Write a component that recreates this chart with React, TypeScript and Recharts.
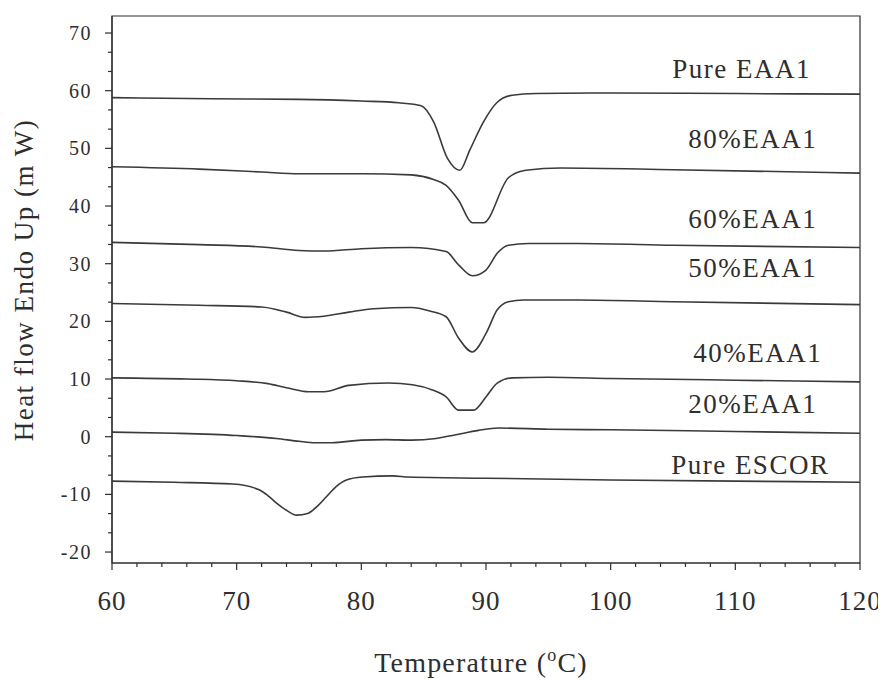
import React from 'react';
import { ComposedChart, Line, XAxis, YAxis, ReferenceArea, ReferenceDot } from 'recharts';

type Pt = { t: number; v: number };

// Temperature (°C) vs heat flow (mW)
const pureEAA1: Pt[] = [
  { t: 60, v: 58.8 }, { t: 68, v: 58.6 }, { t: 75, v: 58.5 }, { t: 80, v: 58.2 }, { t: 83, v: 57.9 },
  { t: 84.8, v: 57.4 }, { t: 85.8, v: 54.6 }, { t: 86.9, v: 48.3 }, { t: 87.9, v: 46.2 }, { t: 88.7, v: 49.7 },
  { t: 89.8, v: 54.6 }, { t: 90.9, v: 58.0 }, { t: 92.1, v: 59.2 }, { t: 94, v: 59.5 }, { t: 100, v: 59.6 },
  { t: 110, v: 59.5 }, { t: 120, v: 59.4 },
];

const eaa80: Pt[] = [
  { t: 60, v: 46.8 }, { t: 67, v: 46.4 }, { t: 72, v: 45.9 }, { t: 75, v: 45.6 }, { t: 80, v: 45.6 },
  { t: 84, v: 45.4 }, { t: 85.8, v: 44.6 }, { t: 86.8, v: 43.6 }, { t: 87.8, v: 41.0 }, { t: 88.9, v: 37.1 },
  { t: 89.8, v: 37.1 }, { t: 91.8, v: 44.9 }, { t: 93.2, v: 46.2 }, { t: 96, v: 46.6 }, { t: 105, v: 46.3 },
  { t: 120, v: 45.7 },
];

const eaa60: Pt[] = [
  { t: 60, v: 33.7 }, { t: 67, v: 33.3 }, { t: 72, v: 32.9 }, { t: 75, v: 32.3 }, { t: 77, v: 32.2 },
  { t: 80, v: 32.6 }, { t: 84, v: 32.8 }, { t: 86.8, v: 32.1 }, { t: 87.8, v: 29.8 }, { t: 88.9, v: 27.9 },
  { t: 90.0, v: 28.9 }, { t: 90.9, v: 31.8 }, { t: 91.8, v: 33.2 }, { t: 93.4, v: 33.5 }, { t: 97.4, v: 33.5 },
  { t: 105, v: 33.2 }, { t: 120, v: 32.8 },
];

const eaa50: Pt[] = [
  { t: 60, v: 23.1 }, { t: 67, v: 22.8 }, { t: 72, v: 22.5 }, { t: 74, v: 21.6 }, { t: 75.5, v: 20.7 },
  { t: 77, v: 20.9 }, { t: 79, v: 21.6 }, { t: 81, v: 22.2 }, { t: 84, v: 22.4 }, { t: 85.5, v: 21.8 },
  { t: 86.8, v: 20.8 }, { t: 87.8, v: 17.1 }, { t: 88.9, v: 14.7 }, { t: 90.0, v: 17.9 }, { t: 90.9, v: 22.0 },
  { t: 91.8, v: 23.4 }, { t: 93, v: 23.7 }, { t: 97.4, v: 23.7 }, { t: 105, v: 23.4 }, { t: 120, v: 22.9 },
];

const eaa40: Pt[] = [
  { t: 60, v: 10.2 }, { t: 66, v: 10.0 }, { t: 70, v: 9.7 }, { t: 72.5, v: 9.2 }, { t: 74, v: 8.5 },
  { t: 75.8, v: 7.8 }, { t: 77, v: 7.8 }, { t: 79, v: 8.9 }, { t: 82.2, v: 9.3 }, { t: 84.1, v: 9.0 },
  { t: 85.7, v: 8.1 }, { t: 86.8, v: 6.9 }, { t: 87.8, v: 4.6 }, { t: 89.0, v: 4.6 }, { t: 90.0, v: 6.9 },
  { t: 90.9, v: 9.3 }, { t: 92.1, v: 10.2 }, { t: 95, v: 10.3 }, { t: 100, v: 10.1 }, { t: 110, v: 9.8 },
  { t: 120, v: 9.5 },
];

const eaa20: Pt[] = [
  { t: 60, v: 0.8 }, { t: 65, v: 0.6 }, { t: 70, v: 0.2 }, { t: 73.2, v: -0.3 }, { t: 75, v: -0.8 },
  { t: 76.3, v: -1.05 }, { t: 77.6, v: -1.05 }, { t: 80, v: -0.6 }, { t: 82, v: -0.5 }, { t: 84, v: -0.6 },
  { t: 86, v: -0.3 }, { t: 87.5, v: 0.3 }, { t: 89.4, v: 1.1 }, { t: 91, v: 1.5 }, { t: 95, v: 1.3 },
  { t: 100, v: 1.2 }, { t: 110, v: 0.9 }, { t: 120, v: 0.6 },
];

const pureESCOR: Pt[] = [
  { t: 60, v: -7.7 }, { t: 65, v: -7.9 }, { t: 69.7, v: -8.2 }, { t: 71.8, v: -9.2 }, { t: 72.5, v: -10.2 },
  { t: 73.2, v: -11.5 }, { t: 74.1, v: -12.9 }, { t: 74.8, v: -13.6 }, { t: 75.7, v: -13.3 }, { t: 76.5, v: -12.0 },
  { t: 77.2, v: -10.4 }, { t: 78.0, v: -8.6 }, { t: 78.8, v: -7.5 }, { t: 80.1, v: -7.0 }, { t: 82.5, v: -6.8 },
  { t: 83.8, v: -7.0 }, { t: 90, v: -7.2 }, { t: 100, v: -7.5 }, { t: 110, v: -7.7 }, { t: 120, v: -7.9 },
];

const seriesList: Pt[][] = [pureEAA1, eaa80, eaa60, eaa50, eaa40, eaa20, pureESCOR];
const seriesNames = ['Pure EAA1', '80%EAA1', '60%EAA1', '50%EAA1', '40%EAA1', '20%EAA1', 'Pure ESCOR'];
const labelT = [110.5, 111.4, 111.4, 111.4, 111.8, 111.4, 111.2];
const labelV = [62.2, 50.05, 36.2, 27.7, 12.95, 4.1, -6.5];

const xMajorTicks = [60, 70, 80, 90, 100, 110, 120];
const yMajorTicks = [-20, -10, 0, 10, 20, 30, 40, 50, 60, 70];

const X_DOMAIN: [number, number] = [60, 120];
const Y_DOMAIN: [number, number] = [-21.9, 72.95];

const FONT = "'Liberation Serif', 'DejaVu Serif', serif";
const INK = '#2e2e2e';
const LINE = '#3a3a3a';
const fontStyle = { fontFamily: FONT };

const subdivide = (majors: number[], parts: number) => {
  const out: number[] = [];
  for (let i = 0; i < majors.length; i++) {
    out.push(majors[i]);
    if (i < majors.length - 1) {
      const step = (majors[i + 1] - majors[i]) / parts;
      for (let k = 1; k < parts; k++) out.push(majors[i] + step * k);
    }
  }
  return out;
};

const xTicks = subdivide(xMajorTicks, 5);
const yTicks = subdivide(yMajorTicks, 3);
const isMajor = (list: number[], v: number) => list.some((m) => Math.abs(m - v) < 1e-6);

const XTick = (props: any) => {
  const { x, y, payload } = props;
  const v = payload.value;
  const major = isMajor(xMajorTicks, v);
  return (
    <g>
      <line x1={x} x2={x} y1={y} y2={y + (major ? 7 : 4)} stroke={INK} strokeWidth={1.2} />
      {major && (
        <text x={x} y={y + 47} textAnchor="middle" fontSize={27} style={fontStyle} fill={INK} letterSpacing={1}>
          {Math.round(v)}
        </text>
      )}
    </g>
  );
};

const YTick = (props: any) => {
  const { x, y, payload } = props;
  const v = payload.value;
  const major = isMajor(yMajorTicks, v);
  return (
    <g>
      <line x1={x} x2={x - (major ? 7 : 4)} y1={y} y2={y} stroke={INK} strokeWidth={1.2} />
      {major && (
        <text x={x - 20} y={y + 7} textAnchor="end" fontSize={20} style={fontStyle} fill={INK} letterSpacing={1.5}>
          {Math.round(v)}
        </text>
      )}
    </g>
  );
};

const YTitle = () => (
  <text
    x={25}
    y={272}
    transform="rotate(-90, 25, 272)"
    textAnchor="middle"
    fontSize={27}
    style={fontStyle}
    fill={INK}
    letterSpacing={1.5}
  >
    Heat flow Endo Up (m W)
  </text>
);

const XTitle = () => (
  <text x={473} y={664} textAnchor="middle" fontSize={28} style={fontStyle} fill={INK} letterSpacing={1.2}>
    <tspan>Temperature (</tspan>
    <tspan fontSize={18} dy={-11}>o</tspan>
    <tspan dy={11}>C)</tspan>
  </text>
);

export default function App() {
  return (
    <ComposedChart width={878} height={672} margin={{ top: 8, right: 26, bottom: 0, left: 0 }}>
      <XAxis
        dataKey="t"
        type="number"
        domain={X_DOMAIN}
        allowDataOverflow
        ticks={xTicks}
        interval={0}
        tickSize={0}
        tickMargin={0}
        tickLine={false}
        tick={XTick}
        axisLine={{ stroke: INK, strokeWidth: 1.2 }}
        height={117}
        label={<XTitle />}
      />
      <YAxis
        dataKey="v"
        type="number"
        domain={Y_DOMAIN}
        allowDataOverflow
        ticks={yTicks}
        interval={0}
        tickSize={0}
        tickMargin={0}
        tickLine={false}
        tick={YTick}
        axisLine={{ stroke: INK, strokeWidth: 1.2 }}
        width={104}
        label={<YTitle />}
      />
      <ReferenceArea
        x1={X_DOMAIN[0]}
        x2={X_DOMAIN[1]}
        y1={Y_DOMAIN[0]}
        y2={Y_DOMAIN[1]}
        fill="none"
        stroke={INK}
        strokeWidth={1.2}
        ifOverflow="visible"
      />
      {seriesList.map((data, i) => (
        <Line
          key={seriesNames[i]}
          data={data}
          dataKey="v"
          type="monotone"
          stroke={LINE}
          strokeWidth={1.6}
          dot={false}
          activeDot={false}
          isAnimationActive={false}
        />
      ))}
      {seriesNames.map((name, i) => (
        <ReferenceDot
          key={'lbl-' + name}
          x={labelT[i]}
          y={labelV[i]}
          r={1}
          ifOverflow="visible"
          shape={(p: any) => (
            <text
              x={p.cx}
              y={p.cy}
              textAnchor="middle"
              fontSize={27}
              style={fontStyle}
              fill={INK}
              letterSpacing={1.5}
            >
              {name}
            </text>
          )}
        />
      ))}
    </ComposedChart>
  );
}
